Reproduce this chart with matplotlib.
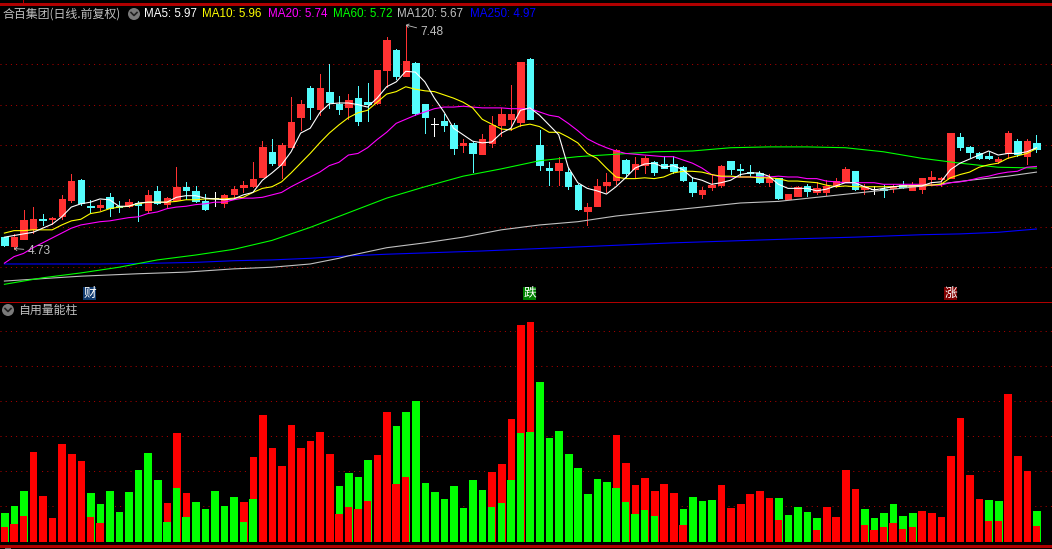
import numpy as np
import matplotlib
matplotlib.use('Agg')
from matplotlib import pyplot as plt
from matplotlib.patches import Circle, Rectangle

plt.rcParams['font.family'] = ['Liberation Sans', 'Noto Sans CJK SC', 'DejaVu Sans']

# candles
opens = [4.87,4.76,4.85,4.97,5.09,5.09,5.13,5.33,5.57,5.25,
         5.24,5.36,5.25,5.25,5.29,5.20,5.44,5.28,5.33,5.49,
         5.44,5.31,5.35,5.29,5.40,5.49,5.50,5.61,5.92,5.76,
         5.98,6.35,6.70,6.45,6.66,6.51,6.47,6.58,6.53,6.52,
         6.93,7.17,6.85,7.01,6.51,6.26,6.30,6.25,6.00,6.03,
         5.89,6.03,6.25,6.32,6.29,7.06,6.00,5.72,5.70,5.67,
         5.51,5.19,5.25,5.51,5.57,5.82,5.71,5.76,5.79,5.77,
         5.77,5.73,5.55,5.40,5.49,5.51,5.81,5.71,5.67,5.66,
         5.55,5.60,5.34,5.38,5.50,5.42,5.42,5.50,5.55,5.68,
         5.46,5.46,5.46,5.47,5.51,5.45,5.46,5.59,5.59,5.60,
         6.10,5.98,5.90,5.87,5.81,5.90,6.05,5.87,6.03]
closes = [4.77,4.87,5.08,5.09,5.08,5.11,5.34,5.56,5.29,5.24,
          5.27,5.23,5.24,5.30,5.27,5.39,5.29,5.35,5.49,5.45,
          5.31,5.22,5.35,5.39,5.46,5.51,5.59,5.98,5.78,6.00,
          6.29,6.51,6.47,6.70,6.53,6.45,6.56,6.30,6.51,6.93,
          7.30,6.85,7.04,6.40,6.35,6.26,6.25,5.97,6.03,5.90,
          6.08,6.25,6.39,6.39,7.02,6.32,5.76,5.70,5.78,5.50,
          5.22,5.24,5.50,5.55,5.94,5.66,5.77,5.84,5.67,5.72,
          5.68,5.57,5.42,5.45,5.51,5.75,5.71,5.70,5.66,5.55,
          5.60,5.35,5.40,5.49,5.44,5.47,5.50,5.56,5.71,5.46,
          5.49,5.46,5.45,5.50,5.49,5.51,5.60,5.61,5.60,6.15,
          5.98,5.92,5.84,5.84,5.83,6.15,5.89,6.05,5.95]
highs = [4.87,4.91,5.20,5.24,5.16,5.12,5.39,5.65,5.59,5.33,
         5.33,5.41,5.31,5.34,5.31,5.45,5.50,5.36,5.73,5.55,
         5.50,5.40,5.42,5.40,5.50,5.56,5.79,6.05,6.08,6.03,
         6.59,6.56,6.73,6.88,7.00,6.61,6.63,6.73,6.77,6.93,
         7.33,7.18,7.48,7.02,6.51,6.34,6.39,6.27,6.08,6.04,
         6.14,6.36,6.46,6.74,7.02,7.07,6.19,5.79,5.86,5.73,
         5.52,5.29,5.59,5.66,5.95,5.83,5.86,5.87,5.81,5.87,
         5.87,5.75,5.61,5.49,5.64,5.76,5.81,5.77,5.76,5.68,
         5.65,5.60,5.40,5.50,5.52,5.55,5.57,5.60,5.73,5.68,
         5.52,5.50,5.51,5.52,5.56,5.55,5.60,5.68,5.61,6.15,
         6.15,5.99,5.92,5.92,5.86,6.18,6.08,6.08,6.13]
lows = [4.76,4.73,4.85,4.92,5.02,5.03,5.09,5.30,5.27,5.17,
        5.20,5.13,5.18,5.24,5.07,5.18,5.28,5.24,5.33,5.34,
        5.30,5.21,5.25,5.24,5.36,5.42,5.49,5.61,5.76,5.60,
        5.98,6.19,6.32,6.37,6.46,6.39,6.32,6.25,6.30,6.51,
        6.72,6.82,6.85,6.37,6.15,6.11,6.18,5.89,5.92,5.67,
        5.89,5.98,6.11,6.19,6.24,6.32,5.70,5.51,5.51,5.46,
        5.20,5.02,5.25,5.42,5.52,5.61,5.60,5.66,5.64,5.72,
        5.66,5.56,5.38,5.35,5.45,5.49,5.65,5.62,5.62,5.54,
        5.50,5.34,5.34,5.38,5.38,5.40,5.39,5.49,5.55,5.45,
        5.40,5.40,5.36,5.42,5.47,5.45,5.41,5.52,5.50,5.60,
        5.94,5.86,5.83,5.83,5.78,5.84,5.87,5.77,5.92]

# moving averages, fast ones per bar
ma5 = [4.87,4.89,4.91,4.93,4.98,5.03,5.12,5.24,5.28,5.30,
       5.34,5.33,5.25,5.25,5.29,5.30,5.30,5.30,5.36,5.38,
       5.38,5.35,5.34,5.33,5.34,5.39,5.42,5.57,5.66,5.76,
       5.92,6.15,6.21,6.40,6.51,6.52,6.52,6.50,6.47,6.58,
       6.72,6.78,6.91,6.90,6.78,6.58,6.41,6.21,6.13,6.05,
       6.03,6.04,6.15,6.21,6.43,6.46,6.37,6.25,6.13,5.73,
       5.54,5.47,5.44,5.40,5.49,5.60,5.72,5.77,5.78,5.73,
       5.75,5.70,5.60,5.57,5.52,5.54,5.57,5.64,5.66,5.66,
       5.62,5.52,5.47,5.47,5.47,5.44,5.46,5.50,5.54,5.54,
       5.49,5.45,5.47,5.49,5.50,5.50,5.50,5.54,5.55,5.70,
       5.78,5.83,5.88,5.93,5.88,5.90,5.90,5.92,5.97]
ma10 = [4.92,4.95,4.95,4.96,4.96,4.96,5.02,5.07,5.09,5.16,
        5.18,5.22,5.24,5.25,5.28,5.30,5.30,5.30,5.31,5.33,
        5.33,5.34,5.34,5.34,5.35,5.36,5.42,5.47,5.49,5.55,
        5.66,5.78,5.90,6.03,6.15,6.25,6.34,6.40,6.43,6.53,
        6.63,6.66,6.72,6.69,6.67,6.66,6.62,6.58,6.53,6.46,
        6.32,6.26,6.20,6.19,6.24,6.26,6.23,6.16,6.16,6.10,
        6.03,5.90,5.84,5.72,5.61,5.59,5.59,5.60,5.59,5.61,
        5.66,5.68,5.68,5.67,5.64,5.62,5.62,5.61,5.61,5.60,
        5.60,5.59,5.56,5.56,5.55,5.54,5.51,5.49,5.50,5.49,
        5.49,5.49,5.49,5.49,5.50,5.50,5.51,5.51,5.52,5.60,
        5.64,5.67,5.73,5.76,5.78,5.84,5.87,5.90,5.96]
ma20 = [4.55,4.63,4.67,4.74,4.80,4.86,4.92,4.98,5.02,5.04,
        5.06,5.07,5.09,5.11,5.12,5.16,5.18,5.22,5.24,5.25,
        5.27,5.28,5.30,5.30,5.33,5.35,5.35,5.36,5.39,5.42,
        5.49,5.55,5.61,5.67,5.75,5.79,5.88,5.90,5.97,6.07,
        6.16,6.27,6.32,6.37,6.41,6.45,6.47,6.47,6.48,6.47,
        6.46,6.46,6.46,6.45,6.45,6.45,6.41,6.37,6.35,6.27,
        6.18,6.08,6.02,5.97,5.93,5.90,5.89,5.88,5.87,5.86,
        5.86,5.82,5.78,5.72,5.64,5.61,5.61,5.61,5.61,5.61,
        5.61,5.62,5.61,5.61,5.59,5.59,5.56,5.55,5.54,5.54,
        5.54,5.54,5.52,5.52,5.52,5.52,5.52,5.51,5.51,5.54,
        5.55,5.57,5.60,5.62,5.65,5.67,5.68,5.73,5.74]

# slow ones are close to straight, read every few bars
ma60_idx = [0,4,8,12,16,20,24,28,32,36,40,44,48,52,56,60,64,68,72,76,80,84,88,92,96,100,104,108]
ma60 = [4.29,4.37,4.43,4.50,4.59,4.65,4.72,4.83,4.99,5.17,5.35,5.49,5.62,5.71,
        5.81,5.86,5.89,5.92,5.93,5.97,5.98,5.98,5.97,5.92,5.84,5.78,5.73,5.72]
ma120_idx = [0,8,14,19,24,28,32,35,36,40,44,48,52,56,60,64,68,73,77,81,85,89,93,97,101,105,108]
ma120 = [4.33,4.39,4.42,4.44,4.48,4.50,4.54,4.61,4.64,4.74,4.80,4.87,4.96,5.02,
         5.06,5.13,5.18,5.24,5.29,5.31,5.36,5.41,5.46,5.51,5.57,5.62,5.67]
ma250_idx = [0,10,16,20,24,28,32,36,40,50,60,70,83,89,96,100,104,108]
ma250 = [4.54,4.54,4.55,4.56,4.58,4.59,4.61,4.64,4.66,4.70,4.75,4.80,4.85,4.87,4.90,4.91,4.93,4.97]

price_grid = [4.5,5.0,5.5,6.0,6.5,7.0]

# volume pane: bar height, height of the lower part (0 = one colour), colour on top
vol_total = [30,37,52,91,47,25,99,89,82,50,
             39,52,31,51,73,90,63,40,110,50,
             41,34,52,37,46,41,86,128,95,77,
             118,95,102,111,89,57,70,66,83,88,
             131,117,131,142,60,51,44,57,35,63,
             53,71,79,124,218,221,161,105,112,89,
             75,49,64,61,108,80,58,65,52,59,
             50,34,46,42,43,58,35,39,49,52,
             45,45,28,36,31,25,36,26,73,54,
             34,25,30,39,27,30,32,30,26,87,
             125,68,44,43,42,149,87,72,32]
vol_part = [15,18,26,0,0,0,0,0,0,25,
            19,0,0,0,0,0,0,20,54,25,
            0,0,0,0,0,20,43,0,0,0,
            0,0,0,0,0,28,35,33,41,0,
            0,58,65,0,0,0,0,0,0,0,
            0,35,39,62,109,110,0,0,0,0,
            0,0,0,0,54,40,28,32,26,0,
            0,17,0,0,0,0,0,0,0,0,
            0,22,0,0,0,12,0,0,0,0,
            17,12,15,19,13,15,0,0,0,0,
            0,0,0,21,21,0,0,0,16]
vol_kind = ("GGGRRRRRRG" "GGGGGGGRRR" "GGGGGRRRRR" "RRRRRGGGGR" "RGGGGGGGGG"
            "GRRRRRGGGG" "GGGGRRRRRR" "RGGGGRRRRR" "RGGGGGRRRR" "GGGGGGRRRR" "RRRGGRRRG")
vol_grid = [36,71,106,141,176,211]

legend = [('MA5: 5.97', '#ffffff', 144), ('MA10: 5.96', '#ffff00', 202), ('MA20: 5.74', '#ff00ff', 268),
          ('MA60: 5.72', '#00ff00', 333), ('MA120: 5.67', '#c0c0c0', 397), ('MA250: 4.97', '#0000ff', 470)]
events = [('财', 89.5, '#103a6e'), ('跌', 529.5, '#008000'), ('涨', 950.5, '#800000')]

W, H = 1052, 549
PITCH = 9.556   # pixels per bar
X0 = 4.4        # centre of first bar
CANDLE_RED = '#ff3232'
CANDLE_CYAN = '#54fcfc'
GRID = '#b00000'
LINE = '#b00000'
GREY = '#c0c0c0'
px = 0.72  # one pixel in points at dpi 100

fig = plt.figure(figsize=(W/100, H/100), dpi=100, facecolor='black')

def pane(top, bottom):
    ax = fig.add_axes([0, 1-bottom/H, 1, (bottom-top)/H], facecolor='black')
    ax.set_xlim(-X0/PITCH, (W-X0)/PITCH)
    ax.axis('off')
    return ax

# price pane, 0.0123 per pixel
ax1 = pane(5, 301)
ax1.set_ylim(7.787-0.0123*301, 7.787-0.0123*5)
# volume pane, one unit is one pixel, base of bars 3 above the line
ax2 = pane(301, 545)
ax2.set_ylim(-3, 241)

x = np.arange(len(opens))
o = np.array(opens)
c = np.array(closes)

for p in price_grid:
    ax1.axhline(p, color=GRID, lw=px, ls=(0, (1, 4.2)), zorder=1)
for v in vol_grid:
    ax2.axhline(v, color=GRID, lw=px, ls=(0, (1, 4.2)), zorder=1)

# candles
colors = [CANDLE_RED if c[i] > o[i] else CANDLE_CYAN if c[i] < o[i] else '#ffffff' for i in x]
ax1.vlines(x, lows, highs, colors=colors, lw=px, antialiased=False, zorder=2)
ax1.bar(x, np.abs(c-o), bottom=np.minimum(o, c), width=6.4/PITCH, color=colors,
        edgecolor=colors, lw=px, antialiased=False, zorder=3)

# moving averages
ma_lw = 0.8
ax1.plot(ma250_idx, ma250, color='#0000ff', lw=ma_lw, zorder=4)
ax1.plot(ma120_idx, ma120, color=GREY, lw=ma_lw, zorder=5)
ax1.plot(ma60_idx, ma60, color='#00ff00', lw=ma_lw, zorder=6)
ax1.plot(x, ma20, color='#ff00ff', lw=ma_lw, zorder=7)
ax1.plot(x, ma10, color='#ffff00', lw=ma_lw, zorder=8)
ax1.plot(x, ma5, color='#ffffff', lw=ma_lw, zorder=9)

# highest and lowest price
ax1.annotate('%.2f' % highs[42], xy=(42, highs[42]), xytext=(15, -7), textcoords='offset pixels',
             color=GREY, fontsize=8.6, va='center', zorder=10,
             arrowprops=dict(arrowstyle='->,head_length=0.2,head_width=0.15', color=GREY, lw=0.6, shrinkA=1, shrinkB=0))
ax1.annotate('%.2f' % lows[1], xy=(1, lows[1]), xytext=(14, -2), textcoords='offset pixels',
             color=GREY, fontsize=8.6, va='center', zorder=10,
             arrowprops=dict(arrowstyle='->,head_length=0.2,head_width=0.15', color=GREY, lw=0.6, shrinkA=1, shrinkB=0))

# volume bars, black edge leaves the small gap in the grid next to each bar
red_ = '#ff0000'
green_ = '#00ff00'
top_col = [red_ if k == 'R' else green_ for k in vol_kind]
low_col = [green_ if k == 'R' else red_ for k in vol_kind]
ax2.bar(x, vol_total, width=8.6/PITCH, color=top_col, edgecolor='black', lw=px, antialiased=False, zorder=2)
ax2.bar(x, vol_part, width=7.4/PITCH, color=low_col, lw=0, antialiased=False, zorder=3)

# frame and header, in plain pixels on top of the panes
ov = fig.add_axes([0, 0, 1, 1], facecolor='none')
ov.set_xlim(0, W)
ov.set_ylim(H, 0)
ov.axis('off')

for y, lw in [(4, 1.0), (301.5, px), (545.5, 1.0)]:
    ov.plot([0, W], [y, y], color=LINE, lw=lw, antialiased=False, solid_capstyle='butt')
ov.plot([23, 23], [0, 4], color=LINE, lw=px, antialiased=False)
ov.add_patch(Rectangle((5, 547.5), 6, 1.5, color='#707070', lw=0))

def chevron(cx, cy):
    ov.add_patch(Circle((cx, cy), 6, color='#7a7a7a', lw=0))
    ov.plot([cx-3, cx, cx+3], [cy-1.5, cy+1.5, cy-1.5], color='#202020', lw=1.2)

chevron(134, 14)
chevron(8, 310)

ov.text(3, 14, '合百集团(日线.前复权)', color=GREY, fontsize=8.6, va='center', ha='left',
        family=['Noto Sans CJK SC', 'DejaVu Sans'])
ov.text(18, 310, '自用量能柱', color=GREY, fontsize=8.6, va='center', ha='left',
        family=['Noto Sans CJK SC', 'DejaVu Sans'])
for label, col, lx in legend:
    ov.text(lx, 14, label, color=col, fontsize=8.4, va='center', ha='left')

for label, ex, col in events:
    ov.add_patch(Rectangle((ex-6.5, 287), 13, 13, color=col, lw=0))
    ov.text(ex, 293.2, label, color='white', fontsize=9.2, va='center', ha='center',
            family=['Noto Sans CJK SC', 'DejaVu Sans'])

fig.savefig('out.png', dpi=100, facecolor='black')
